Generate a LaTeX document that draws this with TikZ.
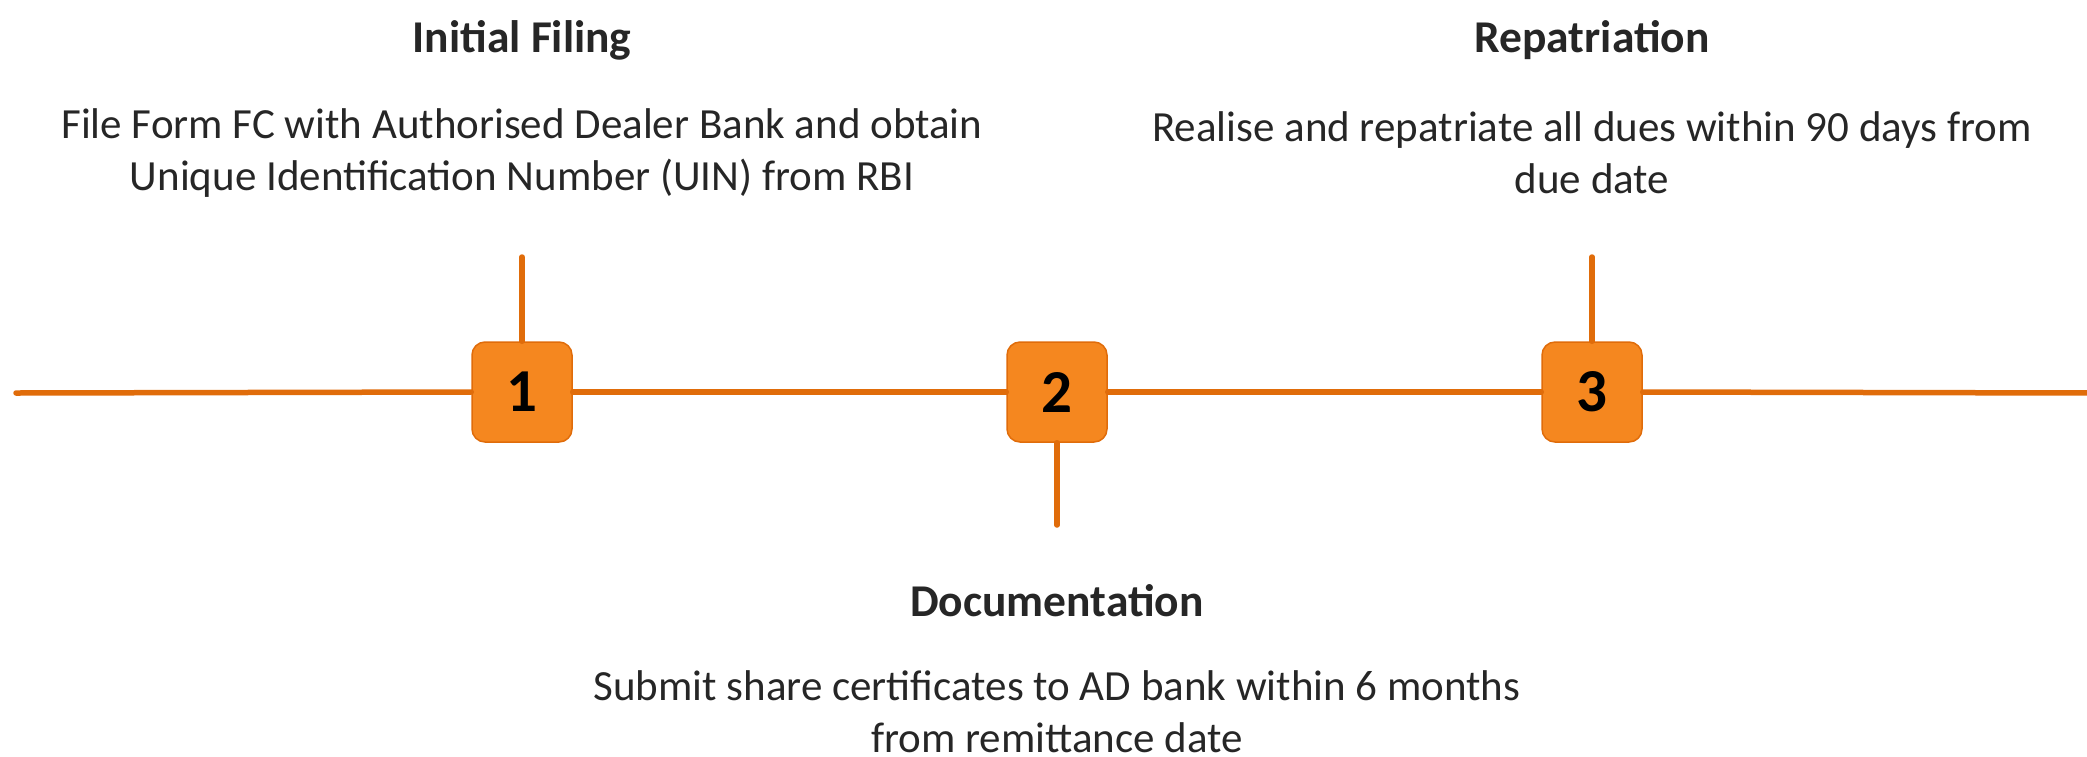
\documentclass[tikz,border=0pt]{standalone}
\usepackage{fontspec}
\setmainfont{Carlito}
\definecolor{fillor}{HTML}{F5871F}
\definecolor{lineor}{HTML}{E06C0A}
\definecolor{txt}{HTML}{262626}
\begin{document}
\begin{tikzpicture}[x=1pt,y=-1pt,
 numbox/.style={draw=lineor, line width=1.5pt, fill=fillor, rounded corners=13pt, minimum width=100pt, minimum height=100pt, inner sep=0pt, font=\fontsize{61}{61}\selectfont\bfseries, text=black},
 axis/.style={draw=lineor, line width=5.5pt, line cap=round},
 ttl/.style={font=\fontsize{45.5}{52}\selectfont\bfseries, text=txt},
 desc/.style={font=\fontsize{43}{52}\selectfont, text=txt, align=center}]
\useasboundingbox (0,0) rectangle (2087,756);
\coordinate (L) at (16,393);
\coordinate (R) at (2092,393);
\coordinate (t1) at (522,257);
\coordinate (t2) at (1057,525);
\coordinate (t3) at (1592,257);
\node[numbox] (b1) at (522,392) {1};
\node[numbox] (b2) at (1057,392) {2};
\node[numbox] (b3) at (1592,392) {3};
\draw[axis] (L) -- (b1.west);
\draw[axis] (b1.east) -- (b2.west);
\draw[axis] (b2.east) -- (b3.west);
\draw[axis] (b3.east) -- (R);
\draw[axis] (t1) -- (b1.north);
\draw[axis] (t2) -- (b2.south);
\draw[axis] (t3) -- (b3.north);
\node[ttl] (h1) at (522,40) {Initial Filing};
\node[desc] (d1) at (522,153) {File Form FC with Authorised Dealer Bank and obtain\\Unique Identification Number (UIN) from RBI};
\node[ttl] (h3) at (1592,40) {Repatriation};
\node[desc] (d3) at (1592,153) {Realise and repatriate all dues within 90 days from\\due date};
\node[ttl] (h2) at (1057,601) {Documentation};
\node[desc] (d2) at (1057,712) {Submit share certificates to AD bank within 6 months\\from remittance date};
\end{tikzpicture}
\end{document}
